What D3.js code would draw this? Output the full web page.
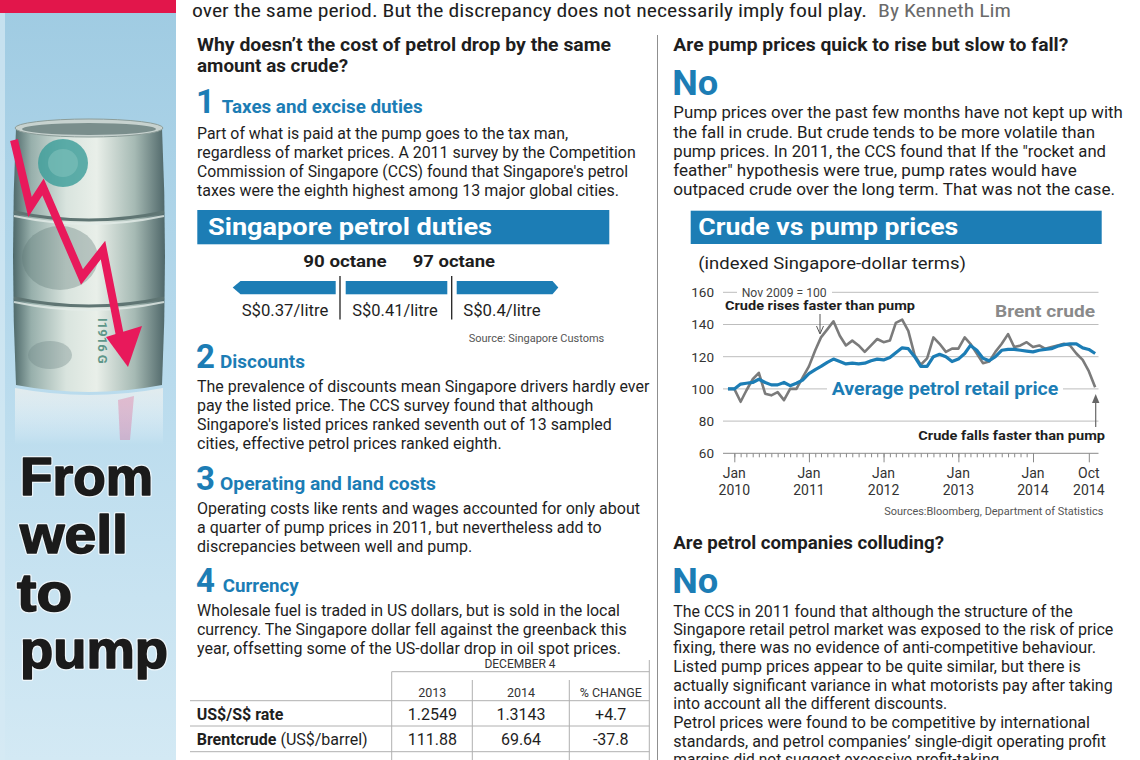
<!DOCTYPE html>
<html><head><meta charset="utf-8">
<script src="https://cdn.jsdelivr.net/npm/d3@7"></script>
<style>html,body{margin:0;padding:0;background:#fff;overflow:hidden}</style>
</head><body>
<script>
// ---------------- DATA ----------------
const headline = "over the same period. But the discrepancy does not necessarily imply foul play.";
const byline = "By Kenneth Lim";
const leftQuestion = ["Why doesn’t the cost of petrol drop by the same", "amount as crude?"];
const sectionNumbers = ["1", "2", "3", "4"];
const sectionTitles = ["Taxes and excise duties", "Discounts", "Operating and land costs", "Currency"];
const body1 = ["Part of what is paid at the pump goes to the tax man,",
  "regardless of market prices. A 2011 survey by the Competition",
  "Commission of Singapore (CCS) found that Singapore's petrol",
  "taxes were the eighth highest among 13 major global cities."];
const body2 = ["The prevalence of discounts mean Singapore drivers hardly ever",
  "pay the listed price. The CCS survey found that although",
  "Singapore's listed prices ranked seventh out of 13 sampled",
  "cities, effective petrol prices ranked eighth."];
const body3 = ["Operating costs like rents and wages accounted for only about",
  "a quarter of pump prices in 2011, but nevertheless add to",
  "discrepancies between well and pump."];
const body4 = ["Wholesale fuel is traded in US dollars, but is sold in the local",
  "currency. The Singapore dollar fell against the greenback this",
  "year, offsetting some of the US-dollar drop in oil spot prices."];
const dutiesTitle = "Singapore petrol duties";
const octaneLabels = ["90 octane", "97 octane"];
const dutyLabels = ["S$0.37/litre", "S$0.41/litre", "S$0.4/litre"];
const dutiesSource = "Source: Singapore Customs";
const tableGroup = "DECEMBER 4";
const tableCols = ["2013", "2014", "% CHANGE"];
const rowLabels = ["US$/S$ rate", "Brentcrude"];
const rowSuffix = ["", " (US$/barrel)"];
const vals2013 = ["1.2549", "111.88"];
const vals2014 = ["1.3143", "69.64"];
const pctChange = ["+4.7", "-37.8"];
const rightQuestion1 = "Are pump prices quick to rise but slow to fall?";
const answer = "No";
const rightBody1 = ["Pump prices over the past few months have not kept up with",
  "the fall in crude. But crude tends to be more volatile than",
  "pump prices. In 2011, the CCS found that If the \"rocket and",
  "feather\" hypothesis were true, pump rates would have",
  "outpaced crude over the long term. That was not the case."];
const rightQuestion2 = "Are petrol companies colluding?";
const rightBody2 = ["The CCS in 2011 found that although the structure of the",
  "Singapore retail petrol market was exposed to the risk of price",
  "fixing, there was no evidence of anti-competitive behaviour.",
  "Listed pump prices appear to be quite similar, but there is",
  "actually significant variance in what motorists pay after taking",
  "into account all the different discounts.",
  "Petrol prices were found to be competitive by international",
  "standards, and petrol companies’ single-digit operating profit",
  "margins did not suggest excessive profit-taking."];
const sideTitle = ["From", "well", "to", "pump"];

// chart
const chartTitle = "Crude vs pump prices";
const chartSubtitle = "(indexed Singapore-dollar terms)";
const baseNote = "Nov 2009 = 100";
const chartSource = "Sources:Bloomberg, Department of Statistics";
const months = ("2009-12 " +
  "2010-01 2010-02 2010-03 2010-04 2010-05 2010-06 2010-07 2010-08 2010-09 2010-10 2010-11 2010-12 " +
  "2011-01 2011-02 2011-03 2011-04 2011-05 2011-06 2011-07 2011-08 2011-09 2011-10 2011-11 2011-12 " +
  "2012-01 2012-02 2012-03 2012-04 2012-05 2012-06 2012-07 2012-08 2012-09 2012-10 2012-11 2012-12 " +
  "2013-01 2013-02 2013-03 2013-04 2013-05 2013-06 2013-07 2013-08 2013-09 2013-10 2013-11 2013-12 " +
  "2014-01 2014-02 2014-03 2014-04 2014-05 2014-06 2014-07 2014-08 2014-09 2014-10 2014-11").split(" ");
const brentCrude = [100,
  100, 92, 99, 106, 110, 97, 96, 98, 93, 100, 100, 107,
  114, 124, 132, 137, 142, 133, 127, 130, 127, 123, 127, 131,
  129, 130, 141, 143, 136, 121, 115, 119, 132, 128, 123, 125,
  125, 132, 128, 122, 116, 117, 123, 128, 134, 126, 127, 129,
  126, 127, 125, 126, 127, 128, 127, 122, 118, 111, 101];
const petrolRetail = [100,
  100, 103, 103.5, 104, 106, 104, 102.5, 102.5, 104, 102, 103.5, 105.5,
  109.5, 112, 114, 116.5, 118.5, 117, 115.5, 116, 115.5, 116, 117.5, 118.5,
  118, 119.5, 122.5, 125.5, 125, 120, 114, 114, 120, 121.5, 120, 117,
  118.5, 122, 127, 124, 119, 117.5, 120, 124, 124.5, 124.5, 124, 123.5,
  123, 124, 124.5, 125, 126.5, 127.5, 128, 128, 125.5, 124.5, 122];
const yTicks = [60, 80, 100, 120, 140, 160];
const xTickDates = ["2010-01", "2011-01", "2012-01", "2013-01", "2014-01", "2014-10"];
const xTickMonth = ["Jan", "Jan", "Jan", "Jan", "Jan", "Oct"];
const xTickYear = ["2010", "2011", "2012", "2013", "2014", "2014"];
const seriesLabels = ["Brent crude", "Average petrol retail price"];
const annotations = ["Crude rises faster than pump", "Crude falls faster than pump"];

// ---------------- DRAW ----------------
const BLUE = "#1c7db5", TXT = "#1e1e1e";
const F = "Roboto, 'Noto Sans', 'Liberation Sans', sans-serif";
const svg = d3.select("body").append("svg").attr("width", 1140).attr("height", 760);
const defs = svg.append("defs");

function T(x, y, s, o = {}) {
  const t = svg.append("text").attr("x", x).attr("y", y).text(s)
    .attr("font-family", o.ff || F).attr("font-size", o.fs || 16)
    .attr("font-weight", o.fw || 400).attr("fill", o.fill || TXT);
  if (o.w) t.attr("textLength", o.w).attr("lengthAdjust", "spacingAndGlyphs");
  if (o.anchor) t.attr("text-anchor", o.anchor);
  return t;
}

// ---- sidebar ----
const sg = defs.append("linearGradient").attr("id", "side").attr("x1", 0).attr("y1", 0).attr("x2", 0).attr("y2", 1);
sg.append("stop").attr("offset", 0).attr("stop-color", "#9fcbe2");
sg.append("stop").attr("offset", 0.5).attr("stop-color", "#b9dbed");
sg.append("stop").attr("offset", 1).attr("stop-color", "#d3e9f4");
svg.append("rect").attr("x", 0).attr("y", 0).attr("width", 176).attr("height", 760).attr("fill", "url(#side)");
svg.append("rect").attr("x", 0).attr("y", 0).attr("width", 5).attr("height", 760).attr("fill", "#d6eaf4").attr("opacity", 0.7);
svg.append("rect").attr("x", 0).attr("y", 0).attr("width", 176).attr("height", 13).attr("fill", "#e2164b");

// barrel
const bg = defs.append("linearGradient").attr("id", "barrel").attr("x1", 0).attr("y1", 0).attr("x2", 1).attr("y2", 0);
[[0, "#4d6869"], [0.12, "#97afab"], [0.35, "#d9e4de"], [0.55, "#e9efe9"], [0.8, "#a6bab4"], [1, "#4f6769"]]
  .forEach(d => bg.append("stop").attr("offset", d[0]).attr("stop-color", d[1]));
const rg = defs.append("linearGradient").attr("id", "refl").attr("x1", 0).attr("y1", 0).attr("x2", 0).attr("y2", 1);
rg.append("stop").attr("offset", 0).attr("stop-color", "#e8eeee").attr("stop-opacity", 0.85);
rg.append("stop").attr("offset", 1).attr("stop-color", "#ffffff").attr("stop-opacity", 0);

svg.append("path").attr("d", "M15,388 Q89,402 163,388 L163,445 L15,445 Z").attr("fill", "url(#refl)");
svg.append("path").attr("d", "M16,128 Q10,256 16,385 Q89,399 162,385 Q168,256 162,128 Z").attr("fill", "url(#barrel)");
svg.append("ellipse").attr("cx", 63).attr("cy", 163).attr("rx", 25).attr("ry", 24).attr("fill", "#3a9c98").attr("opacity", 0.8);
svg.append("ellipse").attr("cx", 63).attr("cy", 163).attr("rx", 15).attr("ry", 14).attr("fill", "#83c3bd").attr("opacity", 0.55);
svg.append("ellipse").attr("cx", 60).attr("cy", 258).attr("rx", 38).attr("ry", 32).attr("fill", "#5e7876").attr("opacity", 0.35);
svg.append("ellipse").attr("cx", 50).attr("cy", 355).attr("rx", 22).attr("ry", 14).attr("fill", "#6d8583").attr("opacity", 0.35);
[212, 298].forEach(y => {
  svg.append("path").attr("d", `M14,${y} Q89,${y + 16} 164,${y}`).attr("fill", "none").attr("stroke", "#5f7573").attr("stroke-width", 3);
  svg.append("path").attr("d", `M14,${y + 4} Q89,${y + 20} 164,${y + 4}`).attr("fill", "none").attr("stroke", "#e4ece8").attr("stroke-width", 2).attr("opacity", 0.8);
});
svg.append("ellipse").attr("cx", 89).attr("cy", 128).attr("rx", 74).attr("ry", 9).attr("fill", "#c7d2cf").attr("stroke", "#8c9d99");
svg.append("ellipse").attr("cx", 89).attr("cy", 129).attr("rx", 67).attr("ry", 6).attr("fill", "#7a8e8c");
svg.append("text").attr("transform", "translate(98,318) rotate(90)").text("I1916 G")
  .attr("font-family", F).attr("font-size", 13).attr("font-weight", 700).attr("fill", "#3f8373").attr("opacity", 0.8);
// red arrow
svg.append("polyline").attr("points", "14,140 30,207 43,187 82,277 103,250 120,336")
  .attr("fill", "none").attr("stroke", "#e8195b").attr("stroke-width", 8).attr("stroke-linejoin", "miter");
svg.append("polygon").attr("points", "106,337 142,326 128,367").attr("fill", "#e8195b");
svg.append("polygon").attr("points", "118,400 134,396 130,440 120,440").attr("fill", "#e8195b").attr("opacity", 0.22);

// side title
const sideY = [495, 553, 611, 668];
const sideX = [20, 20, 17, 20];
const sideW = [133, 108, 55, 148];
sideTitle.forEach((s, i) => {
  T(sideX[i], sideY[i], s, { ff: "'Liberation Sans', Arial, sans-serif", fs: 54, fw: 700, fill: "none", w: sideW[i] })
    .attr("stroke", "#ffffff").attr("stroke-width", 4).attr("stroke-linejoin", "round").attr("opacity", 0.7);
  T(sideX[i], sideY[i], s, { ff: "'Liberation Sans', Arial, sans-serif", fs: 54, fw: 700, fill: "#1b1b1b", w: sideW[i] })
    .attr("stroke", "#1b1b1b").attr("stroke-width", 1.6).attr("stroke-linejoin", "round");
});

// headline
T(192, 17, headline, { ff: "'Liberation Sans Narrow', 'Roboto Condensed', " + F, fs: 18, w: 675 });
T(878, 17, byline, { ff: "'Liberation Sans Narrow', 'Roboto Condensed', " + F, fs: 18, w: 133, fill: "#6a6a6a" });

// divider
svg.append("line").attr("x1", 657.5).attr("x2", 657.5).attr("y1", 35).attr("y2", 760).attr("stroke", "#8f8f8f").attr("stroke-width", 1);

// ---- left column ----
const LX = 197;
T(LX, 51, leftQuestion[0], { fs: 17.5, fw: 700, w: 414 });
T(LX, 71.5, leftQuestion[1], { fs: 17.5, fw: 700, w: 151 });

const numY = [113, 368, 490, 592];
const titleX = [221.7, 220, 220, 222.7];
const titleW = [201, 85, 216, 76];
sectionNumbers.forEach((n, i) => {
  T(LX - 1, numY[i], n, { fs: 33, fw: 700, fill: BLUE });
  T(titleX[i], numY[i] - 0.5, sectionTitles[i], { fs: 17.5, fw: 700, fill: BLUE, w: titleW[i] });
});
function para(lines, x, ys, ws) {
  lines.forEach((s, i) => T(x, ys[i], s, { fs: 16, w: ws[i] }));
}
para(body1, LX, [139, 158, 177, 196], [371, 438.7, 431, 422]);
para(body2, LX, [392.3, 411, 430, 449], [452.3, 396.3, 414.7, 304.7]);
para(body3, LX, [514, 532.7, 551.7], [443, 404.7, 275.3]);
para(body4, LX, [616, 635, 654], [423, 429.7, 424]);

// duties box
svg.append("rect").attr("x", 197.3).attr("y", 210).attr("width", 412).attr("height", 34.3).attr("fill", BLUE);
T(208, 235, dutiesTitle, { fs: 24, fw: 700, fill: "#fff", w: 284 });
const octX = [303.3, 412.7], octW = [83.4, 82.3];
octaneLabels.forEach((s, i) => T(octX[i], 266.7, s, { fs: 16, fw: 700, w: octW[i] }));
svg.append("path").attr("d", "M232.7,287.6 L240.5,281 L335.7,281 L335.7,294.3 L240.5,294.3 Z").attr("fill", BLUE);
svg.append("rect").attr("x", 345.7).attr("y", 281).attr("width", 101.6).attr("height", 13.3).attr("fill", BLUE);
svg.append("path").attr("d", "M456.7,281 L552.5,281 L558.3,287.6 L552.5,294.3 L456.7,294.3 Z").attr("fill", BLUE);
[340, 451.7].forEach(x => svg.append("line").attr("x1", x).attr("x2", x).attr("y1", 276).attr("y2", 319.5).attr("stroke", "#222").attr("stroke-width", 1.3));
const dutyX = [241.7, 352.3, 463.3], dutyW = [86.6, 85.4, 77.4];
dutyLabels.forEach((s, i) => T(dutyX[i], 315.5, s, { fs: 16, w: dutyW[i] }));
T(604.3, 341.7, dutiesSource, { fs: 11, fill: "#555", anchor: "end" });

// table
const colX = [432.3, 521, 610.7];
const tl = (x1, y1, x2, y2) => svg.append("line").attr("x1", x1).attr("y1", y1).attr("x2", x2).attr("y2", y2).attr("stroke", "#b0b0b0").attr("stroke-width", 1);
T(520, 668.3, tableGroup, { fs: 12, anchor: "middle", fill: "#333" });
tl(391.7, 671.7, 649.3, 671.7);
tl(391.7, 671.7, 391.7, 760);
tl(472.3, 680, 472.3, 760);
tl(569.3, 680, 569.3, 760);
tl(649.3, 660, 649.3, 760);
tableCols.forEach((s, i) => T(colX[i], 696.7, s, { fs: 12.5, anchor: "middle", fill: "#333" }));
tl(190, 700.7, 649.3, 700.7);
const rowY = [720, 745];
rowLabels.forEach((s, i) => {
  const t = T(196.7, rowY[i], s, { fs: 16, fw: 700 });
  if (rowSuffix[i]) t.append("tspan").attr("font-weight", 400).text(rowSuffix[i]);
  T(colX[0], rowY[i], vals2013[i], { fs: 16, anchor: "middle" });
  T(colX[1], rowY[i], vals2014[i], { fs: 16, anchor: "middle" });
  T(colX[2], rowY[i], pctChange[i], { fs: 16, anchor: "middle" });
});
tl(190, 726, 649.3, 726);
tl(190, 751.7, 649.3, 751.7);

// ---- right column ----
const RX = 673.3;
T(RX, 51, rightQuestion1, { fs: 17.5, fw: 700, w: 395 });
T(RX - 1, 95, answer, { fs: 35, fw: 700, fill: BLUE, w: 46 });
para(rightBody1, RX, [118.3, 137.7, 156.7, 175.7, 195], [449.4, 421.7, 432.7, 403.4, 441.7]);
T(RX, 549.3, rightQuestion2, { fs: 17.5, fw: 700, w: 270.7 });
T(RX - 1, 593.3, answer, { fs: 35, fw: 700, fill: BLUE, w: 46 });
para(rightBody2, RX, [616.7, 635, 653.3, 671.7, 690.7, 709.3, 728.3, 746.7, 765],
  [399.4, 440, 422.7, 407.4, 439.4, 274, 416.7, 432.7, 330]);

// chart header
svg.append("rect").attr("x", 690.7).attr("y", 210.7).attr("width", 411).attr("height", 33.3).attr("fill", BLUE);
T(698.3, 234.5, chartTitle, { fs: 24, fw: 700, fill: "#fff", w: 260 });
T(698.3, 269, chartSubtitle, { fs: 17, w: 267.7 });

// ---- chart ----
const parse = d3.timeParse("%Y-%m");
const x = d3.scaleTime().domain([parse("2010-01"), parse("2014-01")]).range([734.3, 1033]);
const y = d3.scaleLinear().domain([60, 160]).range([453.3, 292.3]);
const GX1 = 723, GX2 = 1098.5;
const cg = svg.append("g");
cg.selectAll("line.grid").data(yTicks.filter(v => v > 60)).enter().append("line")
  .attr("x1", GX1).attr("x2", GX2).attr("y1", d => y(d)).attr("y2", d => y(d))
  .attr("stroke", "#bdbdbd").attr("stroke-width", 1);
const yAxis = cg.append("g").attr("transform", "translate(714,0)")
  .call(d3.axisLeft(y).tickValues(yTicks).tickSize(0).tickPadding(0));
yAxis.select(".domain").remove();
yAxis.selectAll("text").attr("font-family", F).attr("font-size", 13.5).attr("fill", "#333");
const xMinor = cg.append("g").attr("transform", `translate(0,${y(60)})`)
  .call(d3.axisBottom(x).ticks(d3.timeMonth.every(1)).tickSize(4).tickFormat(""));
xMinor.select(".domain").remove();
xMinor.selectAll("line").attr("stroke", "#8a8a8a");
const majorDates = xTickDates.map(parse);
const xMajor = cg.append("g").attr("transform", `translate(0,${y(60)})`)
  .call(d3.axisBottom(x).tickValues(majorDates).tickSize(9).tickFormat(""));
xMajor.select(".domain").remove();
xMajor.selectAll("line").attr("stroke", "#8a8a8a");
cg.append("line").attr("x1", GX1).attr("x2", GX2).attr("y1", y(60)).attr("y2", y(60)).attr("stroke", "#8a8a8a");
majorDates.forEach((d, i) => {
  T(x(d), 478.3, xTickMonth[i], { fs: 14, anchor: "middle", fill: "#333" });
  T(x(d), 495, xTickYear[i], { fs: 14, anchor: "middle", fill: "#333" });
});
svg.append("rect").attr("x", 737).attr("y", 285).attr("width", 95).attr("height", 14).attr("fill", "#fff");
T(741.7, 296.5, baseNote, { fs: 12.5, fill: "#444", w: 85 });
svg.append("rect").attr("x", 827).attr("y", 381).attr("width", 236).attr("height", 18).attr("fill", "#fff");

const dates = months.map(parse);
const line = d3.line().x((d, i) => x(dates[i])).y(d => y(d));
cg.append("path").datum(brentCrude).attr("d", line).attr("fill", "none")
  .attr("stroke", "#7b7b7b").attr("stroke-width", 2.6).attr("stroke-linejoin", "round");
cg.append("path").datum(petrolRetail).attr("d", line).attr("fill", "none")
  .attr("stroke", BLUE).attr("stroke-width", 3.2).attr("stroke-linejoin", "round");

T(995, 316.7, seriesLabels[0], { fs: 17, fw: 700, fill: "#8a8a8a", w: 100 });
T(831.7, 395, seriesLabels[1], { fs: 17.5, fw: 700, fill: BLUE, w: 226.6 });
T(725, 310, annotations[0], { fs: 13, fw: 700, w: 190 });
T(1105, 440, annotations[1], { fs: 13, fw: 700, w: 186.7, anchor: "end" });
svg.append("line").attr("x1", 820).attr("x2", 820).attr("y1", 314).attr("y2", 333).attr("stroke", "#555").attr("stroke-width", 1);
svg.append("path").attr("d", "M816.5,326 L820,334 L823.5,326").attr("fill", "none").attr("stroke", "#555").attr("stroke-width", 1);
svg.append("line").attr("x1", 1095.7).attr("x2", 1095.7).attr("y1", 400).attr("y2", 427).attr("stroke", "#666").attr("stroke-width", 1.2);
svg.append("path").attr("d", "M1092,403 L1095.7,394 L1099.4,403 Z").attr("fill", "#666");
T(1103.3, 515, chartSource, { fs: 11, fill: "#555", anchor: "end", w: 219 });
</script>
</body></html>
